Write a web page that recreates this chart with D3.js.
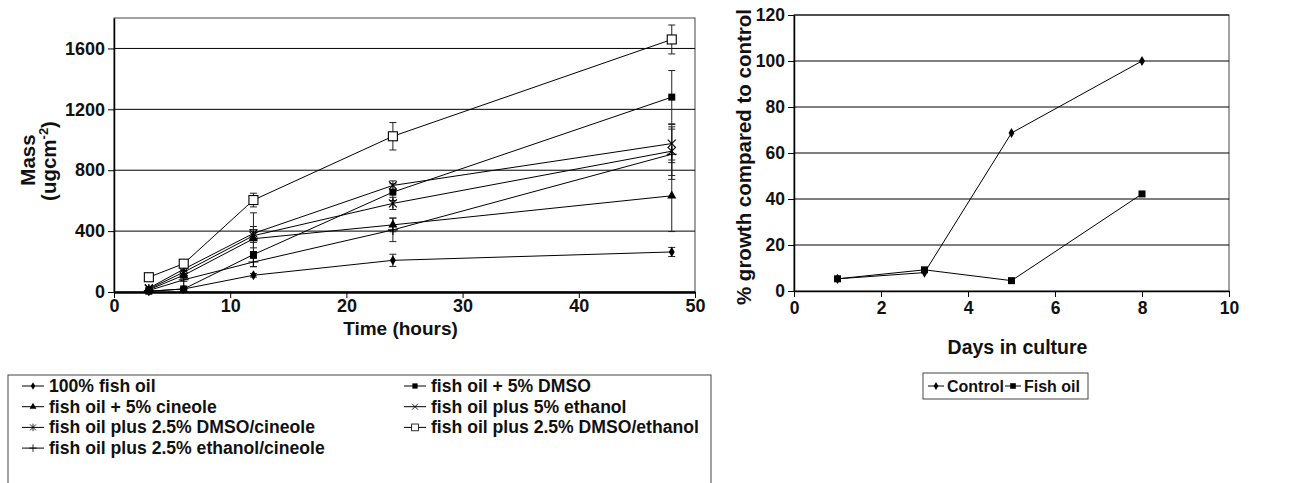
<!DOCTYPE html>
<html><head><meta charset="utf-8">
<script src="https://cdn.jsdelivr.net/npm/d3@7/dist/d3.min.js"></script>
<style>
body{margin:0;background:#fff;}
svg text{font-family:"Liberation Sans",Arial,sans-serif;font-weight:bold;fill:#111;}
</style></head>
<body><svg id="c" width="1307" height="483"></svg>
<script>
// ---------- Data: left chart (mass vs time) ----------
const times = [3, 6, 12, 24, 48];
const xTicksLeft = [0, 10, 20, 30, 40, 50];
const yTicksLeft = [0, 400, 800, 1200, 1600];
const seriesLabels = ["100% fish oil", "fish oil + 5% DMSO", "fish oil + 5% cineole", "fish oil plus 5% ethanol",
  "fish oil plus 2.5% DMSO/cineole", "fish oil plus 2.5% DMSO/ethanol", "fish oil plus 2.5% ethanol/cineole"];
const fishOil100      = [5, 20, 110, 208, 263];
const fishOil100Err   = [3, 5, 12, 40, 30];
const dmso5           = [5, 20, 246, 656, 1280];
const dmso5Err        = [4, 8, 80, 55, 175];
const cineole5        = [15, 110, 350, 441, 632];
const cineole5Err     = [4, 12, 60, 45, 235];
const ethanol5        = [25, 150, 385, 700, 975];
const ethanol5Err     = [5, 12, 45, 30, 125];
const dmsoCineole     = [20, 130, 370, 582, 925];
const dmsoCineoleErr  = [5, 12, 150, 40, 160];
const dmsoEthanol     = [97, 186, 604, 1023, 1659];
const dmsoEthanolErr  = [5, 10, 45, 90, 95];
const ethanolCineole  = [10, 80, 197, 408, 905];
const ethanolCineoleErr = [4, 10, 30, 77, 165];

// ---------- Data: right chart (% growth vs days) ----------
const days = [1, 3, 5, 8];
const xTicksRight = [0, 2, 4, 6, 8, 10];
const yTicksRight = [0, 20, 40, 60, 80, 100, 120];
const rightLabels = ["Control", "Fish oil"];
const controlGrowth = [5.3, 8, 68.7, 100];
const fishOilGrowth = [5.3, 9.2, 4.5, 42.2];

const svg = d3.select("#c");

// marker drawing
function marker(g, type, x, y) {
  const k = "#000";
  if (type === "diamond") {
    g.append("path").attr("d", d3.symbol(d3.symbolDiamond, 30)()).attr("transform", `translate(${x},${y})`).attr("fill", k);
  } else if (type === "square") {
    g.append("rect").attr("x", x - 3.5).attr("y", y - 3.5).attr("width", 7).attr("height", 7).attr("fill", k);
  } else if (type === "triangle") {
    g.append("path").attr("d", d3.symbol(d3.symbolTriangle, 36)()).attr("transform", `translate(${x},${y})`).attr("fill", k);
  } else if (type === "x") {
    g.append("path").attr("d", `M${x-4},${y-4}L${x+4},${y+4}M${x-4},${y+4}L${x+4},${y-4}`).attr("stroke", k).attr("stroke-width", 1.1);
  } else if (type === "asterisk") {
    g.append("path").attr("d", `M${x-4},${y-4}L${x+4},${y+4}M${x-4},${y+4}L${x+4},${y-4}M${x},${y-5}L${x},${y+5}`).attr("stroke", k).attr("stroke-width", 1.1);
  } else if (type === "open") {
    g.append("rect").attr("x", x - 4.5).attr("y", y - 4.5).attr("width", 9).attr("height", 9).attr("fill", "#fff").attr("stroke", k).attr("stroke-width", 1.1);
  } else if (type === "plus") {
    g.append("path").attr("d", `M${x-5},${y}L${x+5},${y}M${x},${y-5}L${x},${y+5}`).attr("stroke", k).attr("stroke-width", 1.1);
  }
}

// ---------- Left chart ----------
const L = {x0: 114, x1: 695, y0: 292, y1: 18};
const xL = d3.scaleLinear().domain([0, 50]).range([L.x0, L.x1]);
const yL = d3.scaleLinear().domain([0, 1800]).range([L.y0, L.y1]);
const gl = svg.append("g");

gl.append("rect").attr("x", L.x0).attr("y", L.y1).attr("width", L.x1 - L.x0).attr("height", L.y0 - L.y1)
  .attr("fill", "none").attr("stroke", "#444").attr("stroke-width", 1);
gl.selectAll(".gl").data(yTicksLeft.filter(d => d > 0)).join("line")
  .attr("x1", L.x0).attr("x2", L.x1).attr("y1", d => yL(d)).attr("y2", d => yL(d))
  .attr("stroke", "#000").attr("stroke-width", 1);

const axLeftL = gl.append("g").attr("transform", `translate(${L.x0},0)`)
  .call(d3.axisLeft(yL).tickValues(yTicksLeft).tickFormat(d3.format("d")).tickSize(6).tickSizeOuter(0).tickPadding(3));
const axBotL = gl.append("g").attr("transform", `translate(0,${L.y0})`)
  .call(d3.axisBottom(xL).tickValues(xTicksLeft).tickFormat(d3.format("d")).tickSize(6).tickSizeOuter(0).tickPadding(1));
[axLeftL, axBotL].forEach(a => {
  a.selectAll("text").style("font-size", "18px").attr("fill", "#111");
  a.selectAll("line").attr("stroke", "#000");
});
axLeftL.select(".domain").attr("stroke", "#000").attr("stroke-width", 1.5);
axBotL.select(".domain").attr("stroke", "#000").attr("stroke-width", 2.5);

const leftSeries = [
  {label: seriesLabels[0], v: fishOil100, e: fishOil100Err, m: "diamond"},
  {label: seriesLabels[1], v: dmso5, e: dmso5Err, m: "square"},
  {label: seriesLabels[2], v: cineole5, e: cineole5Err, m: "triangle"},
  {label: seriesLabels[3], v: ethanol5, e: ethanol5Err, m: "x"},
  {label: seriesLabels[4], v: dmsoCineole, e: dmsoCineoleErr, m: "asterisk"},
  {label: seriesLabels[5], v: dmsoEthanol, e: dmsoEthanolErr, m: "open"},
  {label: seriesLabels[6], v: ethanolCineole, e: ethanolCineoleErr, m: "plus"}
];
const lineL = d3.line().x((d, i) => xL(times[i])).y(d => yL(d));
const errG = gl.append("g");
const lineG = gl.append("g");
const markG = gl.append("g");
leftSeries.forEach(s => {
  lineG.append("path").attr("d", lineL(s.v)).attr("fill", "none").attr("stroke", "#000").attr("stroke-width", 1);
  s.v.forEach((v, i) => {
    const x = xL(times[i]);
    const yt = yL(v + s.e[i]), yb = yL(Math.max(0, v - s.e[i]));
    errG.append("line").attr("x1", x).attr("x2", x).attr("y1", yt).attr("y2", yb).attr("stroke", "#222").attr("stroke-width", 1);
    errG.append("line").attr("x1", x - 3.5).attr("x2", x + 3.5).attr("y1", yt).attr("y2", yt).attr("stroke", "#222").attr("stroke-width", 1);
    errG.append("line").attr("x1", x - 3.5).attr("x2", x + 3.5).attr("y1", yb).attr("y2", yb).attr("stroke", "#222").attr("stroke-width", 1);
    marker(markG, s.m, x, yL(v));
  });
});

gl.append("text").attr("x", (L.x0 + L.x1) / 2 - 4).attr("y", 335).attr("text-anchor", "middle")
  .style("font-size", "19px").text("Time (hours)");
gl.append("text").attr("transform", "translate(35,160) rotate(-90)").attr("text-anchor", "middle")
  .style("font-size", "20.5px").text("Mass");
const t2 = gl.append("text").attr("transform", "translate(56,161) rotate(-90)").attr("text-anchor", "middle")
  .style("font-size", "20.5px");
t2.append("tspan").text("(ugcm");
t2.append("tspan").attr("dy", -8).style("font-size", "13px").text("-2");
t2.append("tspan").attr("dy", 8).text(")");

// left legend
const lg = svg.append("g");
lg.append("rect").attr("x", 8).attr("y", 375).attr("width", 703).attr("height", 130)
  .attr("fill", "none").attr("stroke", "#444").attr("stroke-width", 1);
leftSeries.forEach((s, i) => {
  const col = i % 2, row = Math.floor(i / 2);
  const x = col === 0 ? 22 : 404;
  const y = 386 + row * 20.7;
  lg.append("line").attr("x1", x).attr("x2", x + 22).attr("y1", y).attr("y2", y).attr("stroke", "#000").attr("stroke-width", 1);
  const mg = lg.append("g").attr("transform", `translate(${x + 11},${y}) scale(0.75) translate(${-(x + 11)},${-y})`);
  marker(mg, s.m, x + 11, y);
  lg.append("text").attr("x", x + 27).attr("y", y + 6).style("font-size", "17.6px").text(s.label);
});

// ---------- Right chart ----------
const R = {x0: 794, x1: 1229, y0: 291, y1: 15};
const xR = d3.scaleLinear().domain([0, 10]).range([R.x0, R.x1]);
const yR = d3.scaleLinear().domain([0, 120]).range([R.y0, R.y1]);
const gr = svg.append("g");
gr.append("rect").attr("x", R.x0).attr("y", R.y1).attr("width", R.x1 - R.x0).attr("height", R.y0 - R.y1)
  .attr("fill", "none").attr("stroke", "#444").attr("stroke-width", 1);
gr.selectAll(".gr").data(yTicksRight.filter(d => d > 0)).join("line")
  .attr("x1", R.x0).attr("x2", R.x1).attr("y1", d => yR(d)).attr("y2", d => yR(d))
  .attr("stroke", "#000").attr("stroke-width", 1);
const axLeftR = gr.append("g").attr("transform", `translate(${R.x0},0)`)
  .call(d3.axisLeft(yR).tickValues(yTicksRight).tickSize(6).tickSizeOuter(0).tickPadding(3));
const axBotR = gr.append("g").attr("transform", `translate(0,${R.y0})`)
  .call(d3.axisBottom(xR).tickValues(xTicksRight).tickSize(6).tickSizeOuter(0).tickPadding(5));
[axLeftR, axBotR].forEach(a => {
  a.selectAll("text").style("font-size", "17.5px").attr("fill", "#111");
  a.selectAll("line").attr("stroke", "#000");
  a.select(".domain").attr("stroke", "#000").attr("stroke-width", 1.5);
});
const rightSeries = [
  {label: rightLabels[0], v: controlGrowth, m: "diamond"},
  {label: rightLabels[1], v: fishOilGrowth, m: "square"}
];
const lineR = d3.line().x((d, i) => xR(days[i])).y(d => yR(d));
rightSeries.forEach(s => {
  gr.append("path").attr("d", lineR(s.v)).attr("fill", "none").attr("stroke", "#000").attr("stroke-width", 1);
});
rightSeries.forEach(s => s.v.forEach((v, i) => marker(gr, s.m, xR(days[i]), yR(v))));

gr.append("text").attr("x", (R.x0 + R.x1) / 2 + 6).attr("y", 354).attr("text-anchor", "middle")
  .style("font-size", "19.5px").text("Days in culture");
gr.append("text").attr("transform", "translate(751,157) rotate(-90)").attr("text-anchor", "middle")
  .style("font-size", "20.5px").text("% growth compared to control");

// right legend
const rg = svg.append("g");
rg.append("rect").attr("x", 923).attr("y", 373).attr("width", 165).attr("height", 26)
  .attr("fill", "none").attr("stroke", "#444").attr("stroke-width", 1);
const rlx = [928, 1005];
rightSeries.forEach((s, i) => {
  const x = rlx[i], y = 386;
  rg.append("line").attr("x1", x).attr("x2", x + 16).attr("y1", y).attr("y2", y).attr("stroke", "#000");
  const mg = rg.append("g").attr("transform", `translate(${x + 8},${y}) scale(0.8) translate(${-(x + 8)},${-y})`);
  marker(mg, s.m, x + 8, y);
  rg.append("text").attr("x", x + 19).attr("y", y + 6).style("font-size", "16px").text(s.label);
});
</script></body></html>
